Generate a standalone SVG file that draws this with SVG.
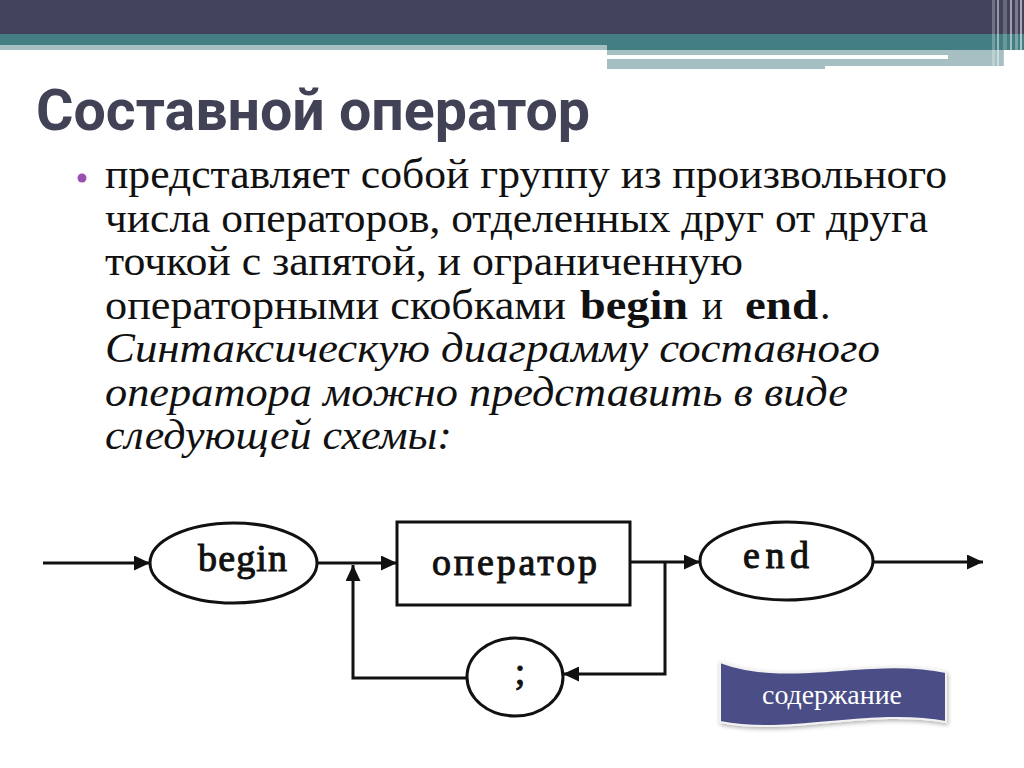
<svg xmlns="http://www.w3.org/2000/svg" width="1024" height="768" viewBox="0 0 1024 768">
  <defs>
    <style>
      .body { font-family: "Liberation Serif", "Times New Roman", serif; font-size: 42px; fill: #111; }
      .it { font-style: italic; }
      .b { font-weight: bold; }
      .title { font-family: Roboto, "Open Sans", "Liberation Sans", sans-serif; font-weight: 700; font-size: 58px; fill: #414256; }
      .shape { fill: #fff; stroke: #111; stroke-width: 3; }
      .lbl { font-family: "Liberation Serif", "Times New Roman", serif; fill: #111; stroke: #111; stroke-width: 1; }
      .conn { fill: none; stroke: #111; stroke-width: 3; marker-end: url(#ah); }
    </style>
    <marker id="ah" viewBox="0 0 16 15" refX="16" refY="7.5" markerWidth="16" markerHeight="15" markerUnits="userSpaceOnUse" orient="auto">
      <path d="M0,0 L16,7.5 L0,15 z" fill="#111"/>
    </marker>
    <filter id="sh" x="-10%" y="-20%" width="120%" height="150%">
      <feDropShadow dx="1" dy="2" stdDeviation="2" flood-color="#000" flood-opacity="0.3"/>
    </filter>
  </defs>

  <rect width="1024" height="768" fill="#fff"/>

  <!-- header bands -->
  <g id="header">
    <rect x="0" y="0" width="1024" height="34" fill="#42435a"/>
    <rect x="0" y="34" width="1024" height="11" fill="#437f82"/>
    <rect x="0" y="45" width="607" height="5" fill="#a6bfc2"/>
    <rect x="607" y="45" width="417" height="5" fill="#437f82"/>
    <rect x="607" y="50" width="397" height="5" fill="#a6bfc2"/>
    <rect x="607" y="55" width="341" height="4" fill="#ffffff"/>
    <rect x="948" y="55" width="56" height="4" fill="#a6bfc2"/>
    <rect x="607" y="59" width="218" height="10" fill="#a6bfc2"/>
    <rect x="825" y="59" width="179" height="7" fill="#a6bfc2"/>
    <rect x="992" y="0" width="3" height="70" fill="#ffffff" opacity="0.25"/>
    <rect x="997" y="0" width="2" height="70" fill="#ffffff" opacity="0.45"/>
    <rect x="1003" y="0" width="4" height="70" fill="#ffffff" opacity="0.2"/>
    <rect x="1010" y="0" width="2" height="70" fill="#ffffff" opacity="0.5"/>
    <rect x="1015" y="0" width="3" height="70" fill="#ffffff" opacity="0.3"/>
    <rect x="1020" y="0" width="2" height="70" fill="#ffffff" opacity="0.55"/>
  </g>

  <text class="title" x="36" y="130" textLength="554" lengthAdjust="spacingAndGlyphs">Составной оператор</text>

  <!-- body text -->
  <circle cx="82" cy="178" r="4.5" fill="#9b4fb0"/>
  <text class="body" x="105" y="188" textLength="842" lengthAdjust="spacingAndGlyphs">представляет собой группу из произвольного</text>
  <text class="body" x="105" y="231.5" textLength="823" lengthAdjust="spacingAndGlyphs">числа операторов, отделенных друг от друга</text>
  <text class="body" x="105" y="275" textLength="638" lengthAdjust="spacingAndGlyphs">точкой с запятой, и ограниченную</text>
  <text class="body" x="105" y="318.5" textLength="461" lengthAdjust="spacingAndGlyphs">операторными скобками</text>
  <text class="body b" x="580" y="318.5" textLength="108" lengthAdjust="spacingAndGlyphs">begin</text>
  <text class="body" x="702" y="318.5" textLength="21" lengthAdjust="spacingAndGlyphs">и</text>
  <text class="body b" x="745" y="318.5" textLength="73" lengthAdjust="spacingAndGlyphs">end</text>
  <text class="body" x="820" y="318.5">.</text>
  <text class="body it" x="105" y="362" textLength="775" lengthAdjust="spacingAndGlyphs">Синтаксическую диаграмму составного</text>
  <text class="body it" x="105" y="405.5" textLength="743" lengthAdjust="spacingAndGlyphs">оператора можно представить в виде</text>
  <text class="body it" x="105" y="449" textLength="347" lengthAdjust="spacingAndGlyphs">следующей схемы:</text>

  <!-- connectors -->
  <g id="connectors">
    <path class="conn" d="M43,563 H150"/>
    <path class="conn" d="M317,563 H397"/>
    <path class="conn" d="M467,678 H353 V565"/>
    <path class="conn" d="M630,562 H700"/>
    <path class="conn" d="M665,562 V674 H563"/>
    <path class="conn" d="M873,562 H983"/>
  </g>

  <!-- nodes -->
  <g id="node-begin">
    <ellipse class="shape" cx="233.5" cy="563" rx="83.5" ry="40"/>
    <text class="lbl" x="198" y="571" font-size="38" textLength="89" lengthAdjust="spacing">begin</text>
  </g>
  <g id="node-operator">
    <rect class="shape" x="397" y="522" width="233" height="83"/>
    <text class="lbl" x="432" y="575" font-size="38" textLength="165" lengthAdjust="spacing">оператор</text>
  </g>
  <g id="node-end">
    <ellipse class="shape" cx="786.5" cy="561" rx="86.5" ry="39"/>
    <text class="lbl" x="743" y="568" font-size="38" textLength="66" lengthAdjust="spacing">end</text>
  </g>
  <g id="node-semicolon">
    <ellipse class="shape" cx="515" cy="677" rx="48" ry="39"/>
    <text class="lbl" x="520" y="684" font-size="38" text-anchor="middle">;</text>
  </g>

  <!-- button -->
  <g id="button-contents">
    <path d="M720,662 C790,688 870,656 946,672 L946,722 C870,708 790,736 720,722 Z" fill="#4b4e87" stroke="#f2f2f2" stroke-width="2" filter="url(#sh)"/>
    <text x="832" y="704" font-family="Liberation Serif, Times New Roman, serif" font-size="27" fill="#fff" text-anchor="middle" textLength="140" lengthAdjust="spacingAndGlyphs">содержание</text>
  </g>
</svg>
